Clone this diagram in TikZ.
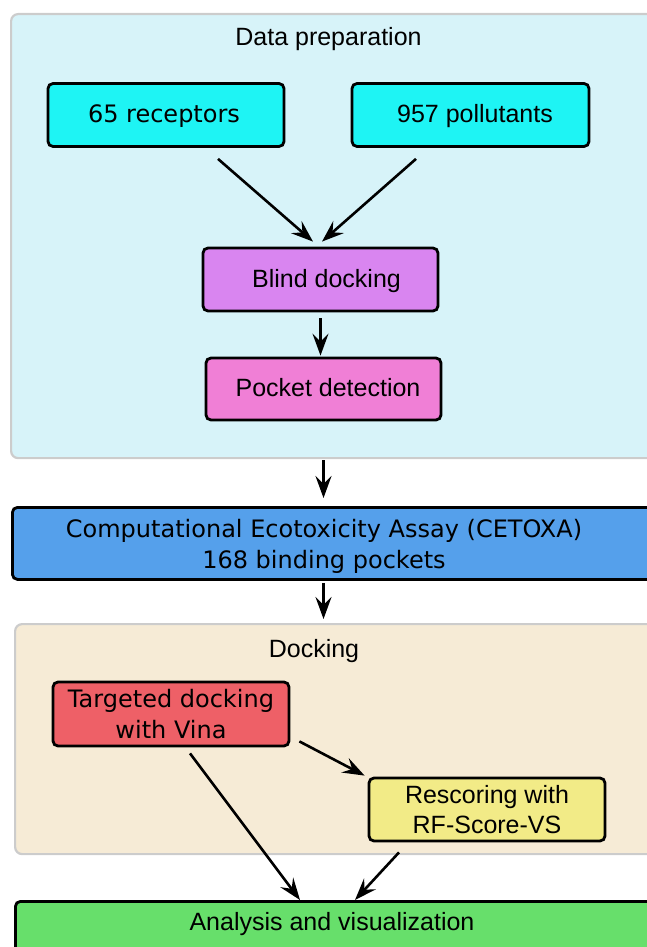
\documentclass[tikz,border=0pt]{standalone}
\usepackage{fontspec}
\setmainfont{Liberation Sans}
\newfontfamily\dejavu{DejaVu Sans}
\usetikzlibrary{arrows.meta,calc}

\definecolor{framegray}{HTML}{CCCCCC}
\definecolor{prepbg}{HTML}{D7F3F9}
\definecolor{dockbg}{HTML}{F6EBD6}
\definecolor{inputcyan}{HTML}{1EF4F4}
\definecolor{blindviolet}{HTML}{D985F0}
\definecolor{pocketpink}{HTML}{F07FD6}
\definecolor{assayblue}{HTML}{55A0EB}
\definecolor{vinared}{HTML}{EE6067}
\definecolor{rescoreyellow}{HTML}{F2EB87}
\definecolor{analysisgreen}{HTML}{67DF6B}

\begin{document}
\begin{tikzpicture}[x=1pt,y=-1pt,
  group/.style={draw=framegray, line width=2.2pt, rounded corners=7pt,
    anchor=north west, inner sep=0pt, minimum width=720pt},
  bigbox/.style={draw=black, line width=2.8pt, rounded corners=5pt,
    anchor=north west, inner sep=0pt},
  task/.style={draw=black, line width=2.8pt, rounded corners=5pt,
    minimum width=236pt, minimum height=63pt, inner sep=0pt,
    font=\fontsize{25}{31}\selectfont, text height=18pt, text depth=3pt},
  task2/.style={draw=black, line width=2.8pt, rounded corners=5pt,
    minimum width=236pt, minimum height=63pt, inner sep=0pt, align=center},
  title/.style={font=\fontsize{25}{31}\selectfont, anchor=base},
  flow/.style={-{Stealth[length=22pt,width=16pt,inset=8pt]}, line width=2.6pt}]

  \useasboundingbox (0,0) rectangle (647,947);
  \clip (0,0) rectangle (647,947);

  % group frames
  \node[group, fill=prepbg, minimum height=444pt] (prep) at (10,13) {};
  \node[title] (preptitle) at (328.5,46) {Data preparation};
  \node[group, fill=dockbg, minimum height=230pt] (dock) at (14,623) {};
  \node[title] (docktitle) at (314,657) {Docking};

  % data preparation
  \node[task, fill=inputcyan, font=\dejavu\fontsize{24}{30}\selectfont] (rec) at (166,115)
    {\hspace*{-4pt}65 receptors};
  \node[task, fill=inputcyan, minimum width=237pt] (pol) at (470.5,115)
    {\hspace*{9pt}957 pollutants};
  \node[task, fill=blindviolet, minimum width=235pt] (blind) at (320.5,279.5)
    {\hspace*{12pt}Blind docking};
  \node[task, fill=pocketpink, minimum width=235pt, minimum height=62pt] (pocket) at (323.5,389)
    {\hspace*{9pt}Pocket detection};

  % assay
  \node[bigbox, fill=assayblue, minimum width=720pt, minimum height=72pt] (cetoxa) at (11,506) {};
  \node[align=center, font=\dejavu\fontsize{24}{31}\selectfont] (cetoxalabel) at (324,546)
    {Computational Ecotoxicity Assay (CETOXA)\\168 binding pockets};

  % docking
  \node[task2, fill=vinared, font=\dejavu\fontsize{24}{31}\selectfont, minimum height=64pt] (vina) at (171,714)
    {Targeted docking\\with Vina};
  \node[task2, fill=rescoreyellow, font=\fontsize{25}{30}\selectfont] (rescore) at (487,809.5)
    {Rescoring with\\RF-Score-VS};

  % analysis
  \node[bigbox, fill=analysisgreen, minimum width=640pt, minimum height=80pt] (analysis) at (14,900) {};
  \node[title] (analysislabel) at (332,930) {Analysis and visualization};

  % connectors
  \draw[flow] ([xshift=52pt,yshift=-11pt]rec.south) -- ([xshift=-7.5pt,yshift=5pt]blind.north);
  \draw[flow] ([xshift=-54.5pt,yshift=-11pt]pol.south) -- ([xshift=1.5pt,yshift=5pt]blind.north);
  \draw[flow] ([yshift=-6pt]blind.south) -- ([yshift=1pt]blind.south |- pocket.north);
  \draw[flow] ([yshift=-1pt]pocket.south |- prep.south) -- ([yshift=8pt]pocket.south |- cetoxa.north);
  \draw[flow] ([yshift=-2pt]pocket.south |- cetoxa.south) -- ([yshift=4pt]pocket.south |- dock.north);
  \draw[flow] ([xshift=9pt,yshift=6pt]vina.south east) -- ([xshift=-3pt,yshift=1pt]rescore.north west);
  \draw[flow] ([xshift=19pt,yshift=-6pt]vina.south) -- ([xshift=129pt]vina.south |- analysis.north);
  \draw[flow] ([xshift=-88pt,yshift=-10pt]rescore.south) -- ([xshift=-132pt]rescore.south |- analysis.north);
\end{tikzpicture}
\end{document}
